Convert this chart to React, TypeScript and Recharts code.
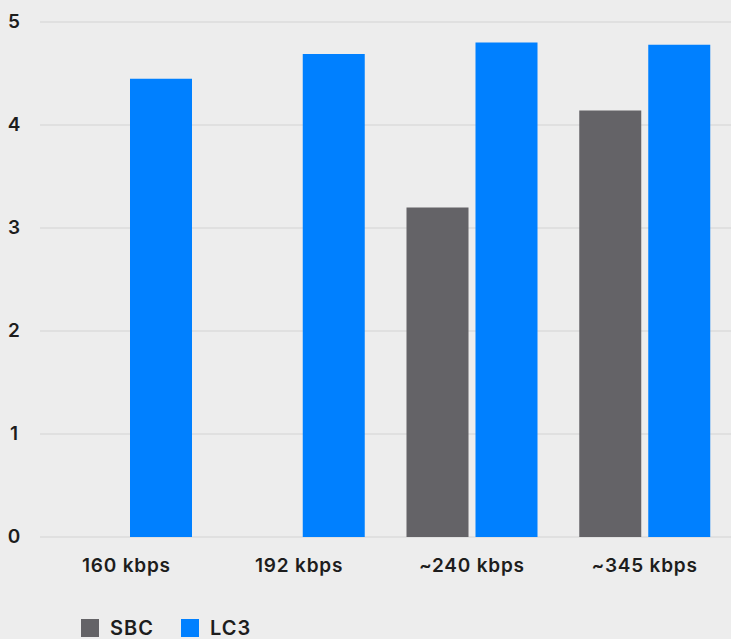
import { BarChart, Bar, XAxis, YAxis, CartesianGrid, Legend } from 'recharts';

const categories = ['160 kbps', '192 kbps', '~240 kbps', '~345 kbps'];
const sbcValues = [null, null, 3.2, 4.14];
const lc3Values = [4.45, 4.69, 4.8, 4.78];
const yTicks = [0, 1, 2, 3, 4, 5];

const series = [
  { key: 'SBC', values: sbcValues, color: '#646367' },
  { key: 'LC3', values: lc3Values, color: '#0080ff' },
];

const data = categories.map((name, i) => ({
  name,
  SBC: sbcValues[i],
  LC3: lc3Values[i],
}));

const FONT = 'Inter, "Noto Sans", sans-serif';

function YTick(props: any) {
  const { x, y, payload } = props;
  return (
    <text x={x - 18} y={y} dy="0.3em" textAnchor="middle" fill="#1d1d1d" fontSize={19} fontWeight={600} fontFamily={FONT}>
      {payload.value}
    </text>
  );
}

function LegendContent() {
  return (
    <div style={{ height: 52, paddingTop: 30, paddingLeft: 81, display: 'flex', alignItems: 'center', boxSizing: 'border-box', fontFamily: FONT }}>
      {series.map((s) => (
        <div key={s.key} style={{ display: 'flex', alignItems: 'center', marginRight: 27 }}>
          <span style={{ width: 18, height: 18, background: s.color, display: 'inline-block', marginRight: 11 }} />
          <span style={{ fontSize: 20, fontWeight: 600, letterSpacing: 1, color: '#1d1d1d' }}>{s.key}</span>
        </div>
      ))}
    </div>
  );
}

export default function App() {
  return (
    <div style={{ position: 'absolute', left: 0, top: 0, width: 731, height: 639, background: '#ededed' }}>
      <BarChart
        width={731}
        height={639}
        data={data}
        margin={{ top: 22, right: 0, left: 0, bottom: 0 }}
        barCategoryGap={21}
        barGap={7}
      >
        <CartesianGrid vertical={false} stroke="#d3d3d3" />
        <XAxis
          dataKey="name"
          axisLine={false}
          tickLine={false}
          tickSize={0}
          tickMargin={22}
          height={50}
          interval={0}
          tick={{ fill: '#1d1d1d', fontSize: 19, fontWeight: 600, letterSpacing: 0.8, fontFamily: FONT }}
        />
        <YAxis
          domain={[0, 5]}
          ticks={yTicks}
          width={40}
          axisLine={false}
          tickLine={false}
          tick={<YTick />}
        />
        <Legend verticalAlign="bottom" align="left" content={<LegendContent />} wrapperStyle={{ height: 52 }} />
        {series.map((s) => (
          <Bar key={s.key} dataKey={s.key} fill={s.color} isAnimationActive={false} />
        ))}
      </BarChart>
    </div>
  );
}
